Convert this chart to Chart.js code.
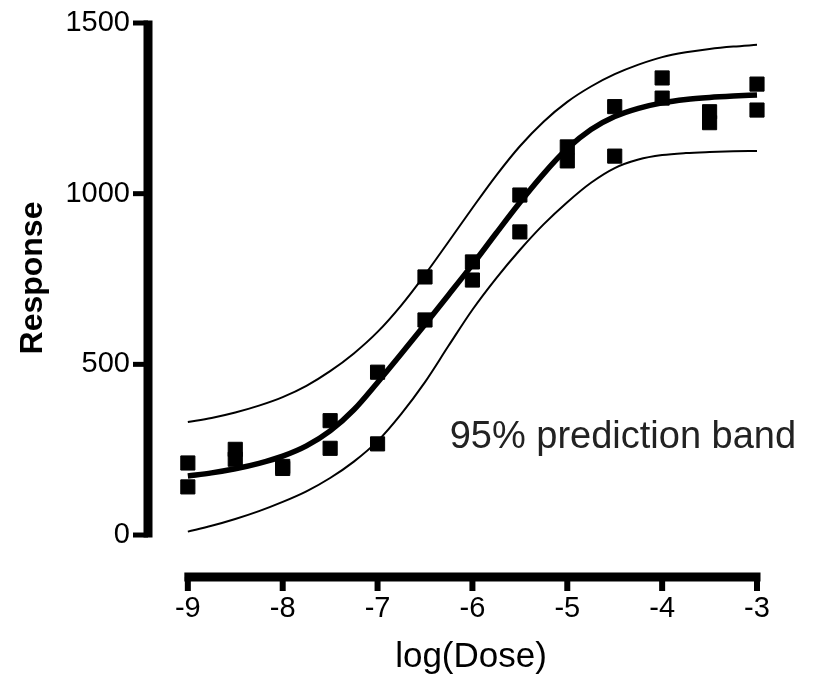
<!DOCTYPE html>
<html>
<head>
<meta charset="utf-8">
<script src="https://cdn.jsdelivr.net/npm/chart.js@4/dist/chart.umd.min.js"></script>
<style>
  html, body { margin: 0; padding: 0; background: #fff; }
  #wrap { width: 817px; height: 679px; }
</style>
</head>
<body>
<div id="wrap"><canvas id="chart" width="817" height="679"></canvas></div>
<script>
// tick labels
const xTicks = [-9, -8, -7, -6, -5, -4, -3];
const yTicks = [0, 500, 1000, 1500];

// replicate measurements, log(Dose) vs Response
const doseX = [-9, -9, -8.5, -8.5, -8, -8, -7.5, -7.5, -7, -7, -6.5, -6.5, -6, -6,
  -5.5, -5.5, -5, -5, -4.5, -4.5, -4, -4, -3.5, -3.5, -3, -3];
const responseY = [211, 141, 251, 222, 201, 195, 335, 254, 477, 267, 756, 630, 800, 747,
  996, 888, 1137, 1096, 1255, 1110, 1339, 1280, 1240, 1208, 1321, 1245];

// fitted curve and 95% prediction band, every 0.25
const curveX = [-9, -8.75, -8.5, -8.25, -8, -7.75, -7.5, -7.25, -7, -6.75, -6.5, -6.25, -6,
  -5.75, -5.5, -5.25, -5, -4.75, -4.5, -4.25, -4, -3.75, -3.5, -3.25, -3];
const fitY = [173, 182, 194, 210, 231, 261, 305, 367, 447, 531, 617, 704, 792,
  884, 974, 1058, 1132, 1188, 1226, 1250, 1266, 1276, 1282, 1286, 1289];
const upperY = [331, 343, 359, 379, 404, 437, 480, 532, 595, 673, 763, 860, 958,
  1053, 1139, 1211, 1269, 1314, 1350, 1378, 1400, 1414, 1424, 1431, 1436];
const lowerY = [10, 27, 47, 70, 97, 128, 167, 215, 275, 355, 448, 555, 660,
  752, 835, 910, 975, 1032, 1075, 1100, 1113, 1119, 1122, 1124, 1125];

const bandLabel = '95% prediction band';

const regular = "'Liberation Sans', Arial, sans-serif";

const toPoints = (xs, ys) => xs.map((x, i) => ({x: x, y: ys[i]}));

const lineSet = (label, ys, width) => ({
  type: 'line',
  label: label,
  data: toPoints(curveX, ys),
  borderColor: '#000',
  borderWidth: width,
  pointRadius: 0,
  fill: false,
  cubicInterpolationMode: 'monotone'
});

// prism style offset axes, drawn with the chart's own scales
const prismAxes = {
  id: 'prismAxes',
  afterDatasetsDraw(chart) {
    const ctx = chart.ctx;
    const xs = chart.scales.x;
    const ys = chart.scales.y;
    const area = chart.chartArea;
    ctx.save();
    ctx.strokeStyle = '#000';
    ctx.lineCap = 'butt';

    // y axis
    const yLineX = area.left;
    ctx.lineWidth = 9;
    ctx.beginPath();
    ctx.moveTo(yLineX, ys.getPixelForValue(yTicks[yTicks.length - 1]) - 2.5);
    ctx.lineTo(yLineX, ys.getPixelForValue(yTicks[0]) + 2.5);
    ctx.stroke();
    ctx.lineWidth = 5;
    yTicks.forEach((v) => {
      const py = ys.getPixelForValue(v);
      ctx.beginPath();
      ctx.moveTo(yLineX - 15, py);
      ctx.lineTo(yLineX, py);
      ctx.stroke();
    });

    // x axis
    const xLineY = area.bottom;
    ctx.lineWidth = 9;
    ctx.beginPath();
    ctx.moveTo(xs.getPixelForValue(xTicks[0]) - 3.5, xLineY);
    ctx.lineTo(xs.getPixelForValue(xTicks[xTicks.length - 1]) + 3.5, xLineY);
    ctx.stroke();
    ctx.lineWidth = 6;
    xTicks.forEach((v) => {
      const px = xs.getPixelForValue(v);
      ctx.beginPath();
      ctx.moveTo(px, xLineY);
      ctx.lineTo(px, xLineY + 14);
      ctx.stroke();
    });

    // y title
    ctx.fillStyle = '#000';
    ctx.font = "bold 32px " + regular;
    ctx.textAlign = 'center';
    ctx.textBaseline = 'middle';
    ctx.translate(33, area.top + 255);
    ctx.rotate(-Math.PI / 2);
    ctx.fillText('Response', 0, 0);
    ctx.restore();

    // band note
    ctx.save();
    ctx.fillStyle = '#222';
    ctx.font = "38px " + regular;
    ctx.textAlign = 'left';
    ctx.textBaseline = 'alphabetic';
    ctx.fillText(bandLabel, xs.getPixelForValue(-6.24), ys.getPixelForValue(255));
    ctx.restore();
  }
};

new Chart(document.getElementById('chart'), {
  type: 'scatter',
  data: {
    datasets: [
      {
        label: 'Data',
        data: toPoints(doseX, responseY),
        pointStyle: 'rect',
        pointRadius: 10,
        pointBorderWidth: 1,
        backgroundColor: '#000',
        borderColor: '#000'
      },
      lineSet('Fit', fitY, 5.5),
      lineSet('Upper', upperY, 2),
      lineSet('Lower', lowerY, 2)
    ]
  },
  options: {
    responsive: false,
    animation: false,
    layout: { padding: { top: 23, right: 23, bottom: 0, left: 0 } },
    plugins: {
      legend: { display: false },
      tooltip: { enabled: false }
    },
    scales: {
      x: {
        type: 'linear',
        min: -9.42,
        max: -2.61,
        grid: { display: false, drawTicks: false },
        border: { display: false },
        afterBuildTicks: (s) => { s.ticks = xTicks.map((v) => ({value: v})); },
        afterFit: (s) => { s.height = 102; s.paddingLeft = 0; s.paddingRight = 0; },
        ticks: {
          color: '#000',
          padding: 15,
          maxRotation: 0,
          autoSkip: false,
          font: { family: regular, size: 29 },
          callback: (v) => String(v)
        },
        title: {
          display: true,
          text: 'log(Dose)',
          color: '#000',
          font: { family: regular, size: 35 },
          padding: { top: 0, bottom: 1 }
        }
      },
      y: {
        type: 'linear',
        min: -123,
        max: 1500,
        grid: { display: false, drawTicks: false },
        border: { display: false },
        afterBuildTicks: (s) => { s.ticks = yTicks.map((v) => ({value: v})); },
        afterFit: (s) => { s.width = 148; s.paddingTop = 0; s.paddingBottom = 0; },
        ticks: {
          color: '#000',
          padding: 18,
          font: { family: regular, size: 29 },
          callback: (v) => String(v)
        }
      }
    }
  },
  plugins: [prismAxes]
});
</script>
</body>
</html>
